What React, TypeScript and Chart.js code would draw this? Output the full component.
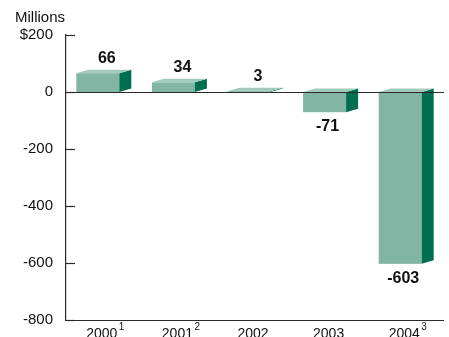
import { useEffect, useRef } from "react";
import { Chart, registerables } from "chart.js";

Chart.register(...registerables);

const categories = ["2000", "2001", "2002", "2003", "2004"];
const footnotes = ["1", "2", "", "", "3"];
const values = [66, 34, 3, -71, -603];
const valueLabels = ["66", "34", "3", "-71", "-603"];
const yMin = -800;
const yMax = 200;
const yStep = 200;
const unitLabel = "Millions";

const FRONT = "#83b5a5";
const SIDE = "#006f4f";
const TOP = "#a2cbbc";
const AXIS = "#2a2a2a";
const FONT = "Arial, 'Liberation Sans', Helvetica, sans-serif";
const DX = 12;
const DY = 3.5;

const bar3d = {
  id: "bar3d",
  afterDatasetsDraw(chart: any) {
    const ctx = chart.ctx;
    const area = chart.chartArea;
    const yScale = chart.scales.y;
    const xScale = chart.scales.x;
    const meta = chart.getDatasetMeta(0);
    ctx.save();
    meta.data.forEach((el: any, i: number) => {
      const { x, y, base, width } = el.getProps(["x", "y", "base", "width"], true);
      const left = x - width / 2;
      const right = x + width / 2 - DX;
      const top = Math.min(y, base);
      const bottom = Math.max(y, base);
      // front face
      ctx.fillStyle = FRONT;
      ctx.fillRect(left, top, right - left, bottom - top);
      // side face
      ctx.fillStyle = SIDE;
      ctx.beginPath();
      ctx.moveTo(right, top);
      ctx.lineTo(right + DX, top - DY);
      ctx.lineTo(right + DX, bottom - DY);
      ctx.lineTo(right, bottom);
      ctx.closePath();
      ctx.fill();
      // top face
      ctx.fillStyle = TOP;
      ctx.beginPath();
      ctx.moveTo(left, top);
      ctx.lineTo(left + DX, top - DY);
      ctx.lineTo(right + DX, top - DY);
      ctx.lineTo(right, top);
      ctx.closePath();
      ctx.fill();
      // value label
      const v = values[i];
      ctx.fillStyle = "#111";
      ctx.font = `bold 16px ${FONT}`;
      ctx.textAlign = "center";
      ctx.textBaseline = "middle";
      if (v >= 0) {
        ctx.fillText(valueLabels[i], x + 3, top - 14.5);
      } else {
        ctx.fillText(valueLabels[i], x - 3, bottom + 14.5);
      }
    });
    // zero line
    const y0 = Math.round(yScale.getPixelForValue(0)) + 0.5;
    ctx.strokeStyle = AXIS;
    ctx.lineWidth = 1.2;
    ctx.beginPath();
    ctx.moveTo(area.left, y0);
    ctx.lineTo(area.right, y0);
    ctx.stroke();
    // bottom axis line
    const yb = Math.round(area.bottom) + 0.5;
    ctx.beginPath();
    ctx.moveTo(area.left, yb);
    ctx.lineTo(area.right, yb);
    ctx.stroke();
    // inward tick marks on y axis
    yScale.ticks.forEach((t: any) => {
      const py = Math.round(yScale.getPixelForValue(t.value)) + 0.5;
      ctx.beginPath();
      ctx.moveTo(area.left, py);
      ctx.lineTo(area.left + 9, py);
      ctx.stroke();
    });
    // category labels with footnote superscripts
    ctx.fillStyle = "#111";
    ctx.textBaseline = "alphabetic";
    categories.forEach((c, i) => {
      const cx = xScale.getPixelForTick(i) - 2;
      ctx.font = `14px ${FONT}`;
      ctx.textAlign = "center";
      ctx.fillText(c, cx, 337.5);
      const w = ctx.measureText(c).width;
      if (footnotes[i]) {
        ctx.font = `10px ${FONT}`;
        ctx.textAlign = "left";
        ctx.fillText(footnotes[i], cx + w / 2 + 1.5, 330);
      }
    });
    // unit label
    ctx.font = `15px ${FONT}`;
    ctx.textAlign = "left";
    ctx.fillText(unitLabel, 15, 22);
    ctx.restore();
  },
};

export default function App() {
  const ref = useRef<HTMLCanvasElement>(null);
  useEffect(() => {
    if (!ref.current) return;
    const chart = new Chart(ref.current, {
      type: "bar",
      data: {
        labels: categories,
        datasets: [
          {
            data: values,
            backgroundColor: "rgba(0,0,0,0)",
            borderWidth: 0,
            barPercentage: 0.7275,
            categoryPercentage: 1,
          },
        ],
      },
      options: {
        responsive: false,
        animation: false,
        devicePixelRatio: 1,
        layout: { padding: { top: 35, right: 5, left: 0, bottom: 17 } },
        plugins: {
          legend: { display: false },
          tooltip: { enabled: false },
          title: { display: false },
        },
        scales: {
          x: {
            offset: true,
            grid: { display: false, drawTicks: false },
            border: { display: false },
            ticks: { display: false },
            afterFit: (s: any) => {
              s.height = 0;
            },
          },
          y: {
            min: yMin,
            max: yMax,
            grid: { display: false, drawTicks: false },
            border: { display: true, color: AXIS, width: 1.2 },
            ticks: {
              stepSize: yStep,
              color: "#111",
              font: { family: FONT, size: 15 },
              padding: 13,
              callback: (v: any) => (v === yMax ? "$" + v : String(v)),
            },
            afterFit: (s: any) => {
              s.width = 66;
              s.paddingTop = 0;
              s.paddingBottom = 0;
            },
          },
        },
      },
      plugins: [bar3d],
    });
    return () => chart.destroy();
  }, []);
  return (
    <div style={{ position: "fixed", left: 0, top: 0, width: 449, height: 337, background: "#fff" }}>
      <canvas ref={ref} width={449} height={337} style={{ display: "block" }} />
    </div>
  );
}
